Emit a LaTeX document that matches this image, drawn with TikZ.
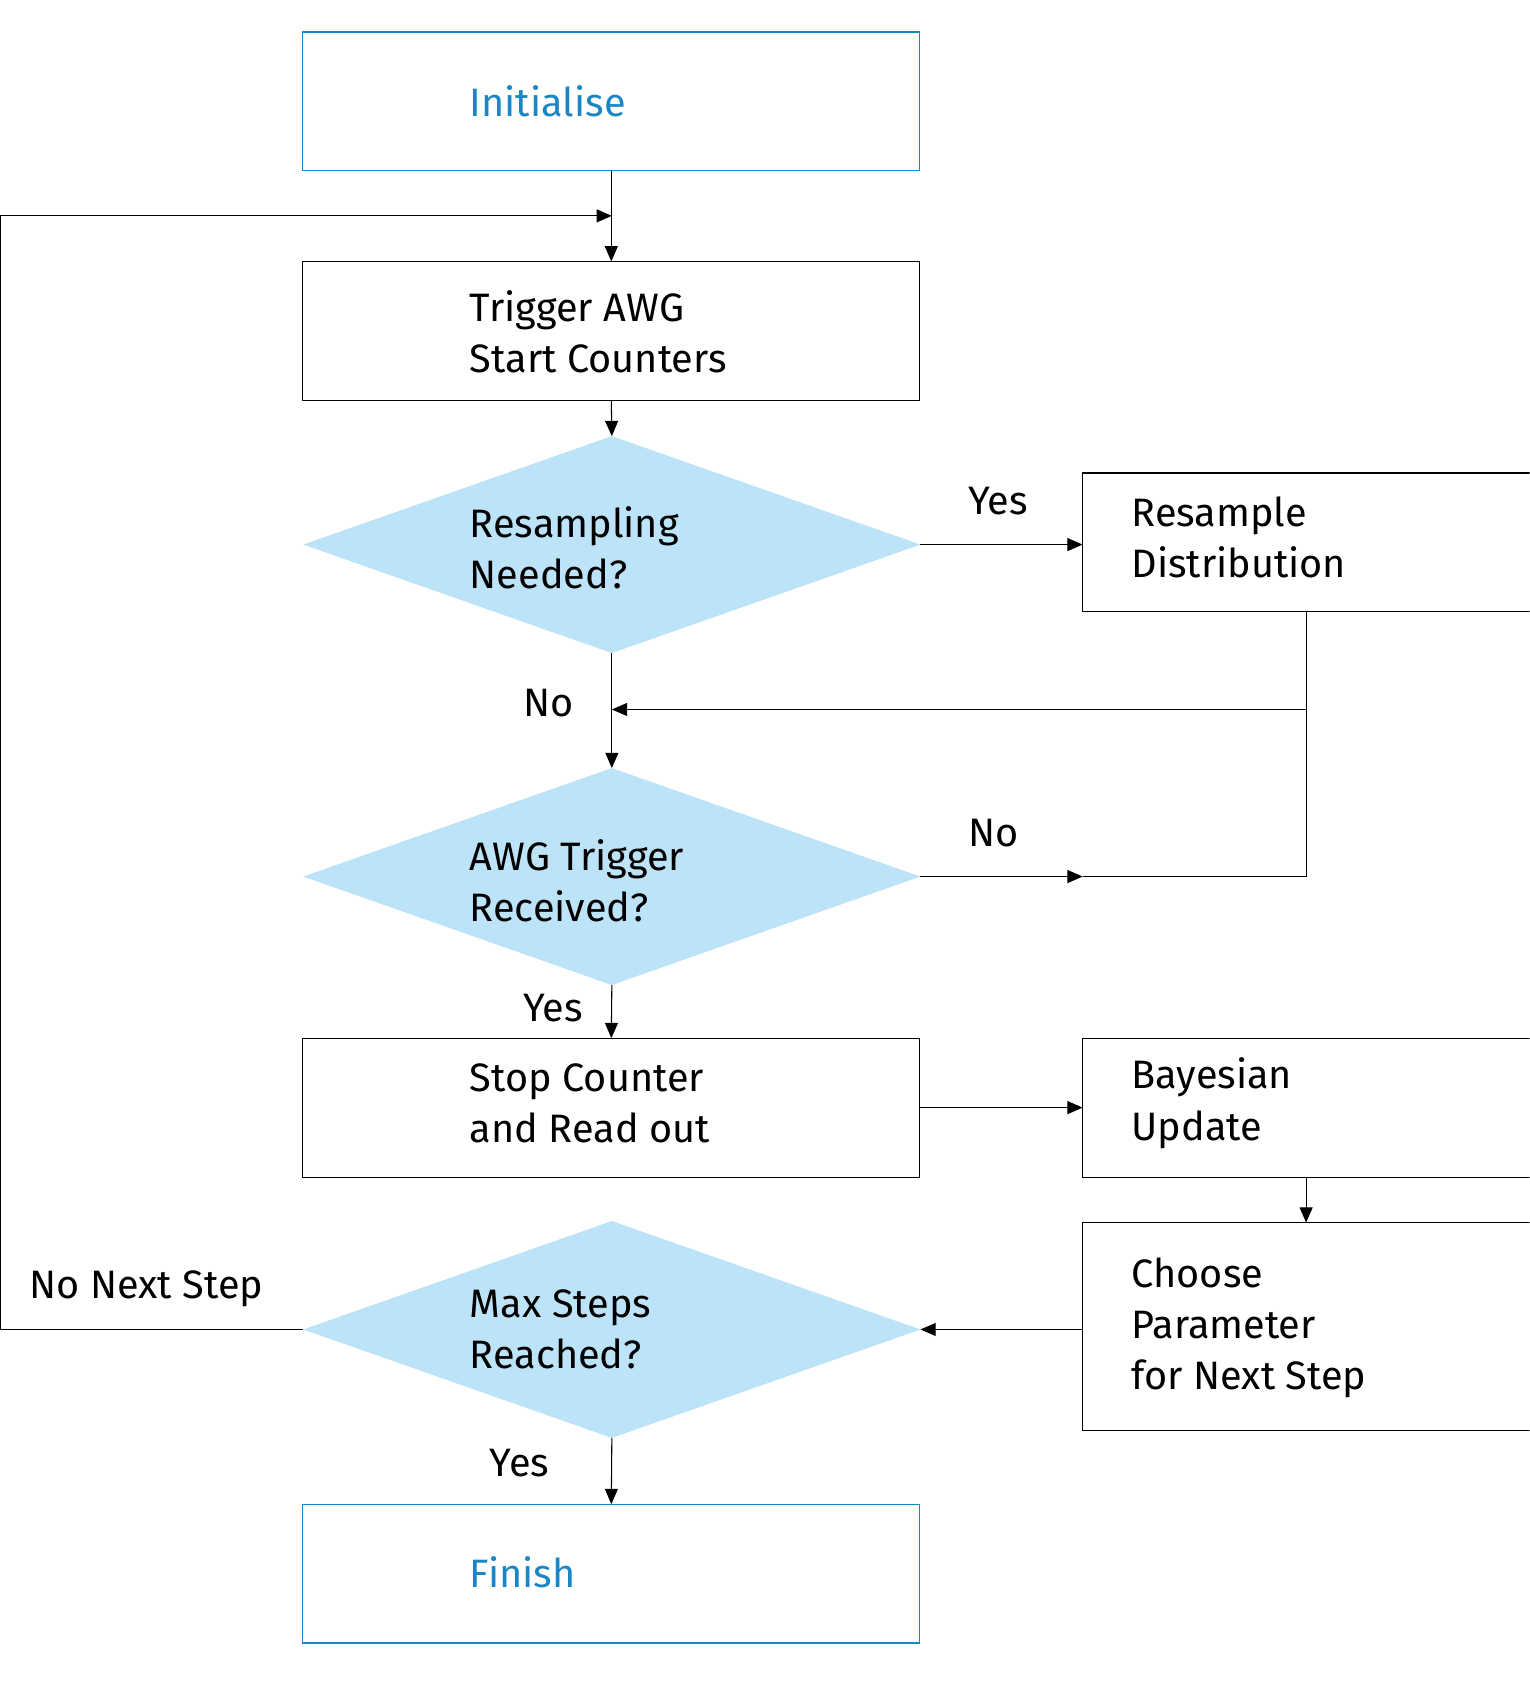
\documentclass[tikz,border=0pt]{standalone}
\usepackage{fontspec}
\setmainfont{Fira Sans}
\usetikzlibrary{arrows.meta,shapes.geometric}
\definecolor{zblue}{HTML}{1A86C3}
\definecolor{dfill}{HTML}{BDE3F8}
\begin{document}
\begin{tikzpicture}[x=0.05cm,y=-0.05cm,
  box/.style={draw,line width=1.4pt,minimum width=28.45cm,minimum height=6.4cm,inner sep=0,outer sep=0},
  rbox/.style={box,minimum width=21.1cm},
  sbox/.style={box,draw=zblue},
  dia/.style={diamond,fill=dfill,aspect=2.84,minimum width=28.45cm,minimum height=10cm,inner sep=0,outer sep=0},
  txt/.style={anchor=west,align=left,inner sep=0,font=\fontsize{52pt}{67pt}\selectfont},
  lbl/.style={inner sep=0,font=\fontsize{52pt}{67pt}\selectfont},
  arr/.style={line width=1.4pt,-{Triangle[length=20pt,width=17pt]}},
  ln/.style={line width=1.4pt}]
\useasboundingbox (0,0) rectangle (1410,1568);
\clip (0,0) rectangle (1410,1568);
\node[sbox] (init) at (563.5,93.5) {};
\node[txt,text=zblue] (tinit) at (433,93.5) {Initialise};
\node[box] (trig) at (563.5,305) {};
\node[txt] (ttrig) at (433,306) {Trigger AWG\\Start Counters};
\node[dia] (d1) at (564,502) {};
\node[txt] (td1) at (433,505) {Resampling\\Needed?};
\node[rbox] (res) at (1209,500) {};
\node[txt] (tres) at (1043,495) {Resample\\Distribution};
\node[dia] (d2) at (564,808) {};
\node[txt] (td2) at (433,812) {AWG Trigger\\Received?};
\node[box] (stop) at (563.5,1021) {};
\node[txt] (tstop) at (433,1017) {Stop Counter\\and Read out};
\node[rbox] (bay) at (1209,1021) {};
\node[txt] (tbay) at (1043,1017) {Bayesian\\Update};
\node[rbox,minimum height=9.6cm] (cho) at (1209,1223) {};
\node[txt] (tcho) at (1043,1224) {Choose\\Parameter\\for Next Step};
\node[dia] (d3) at (564,1225.5) {};
\node[txt] (td3) at (433,1225) {Max Steps\\Reached?};
\node[sbox] (fin) at (563.5,1450.5) {};
\node[txt,text=zblue] (tfin) at (433,1449) {Finish};
\coordinate (m1) at (564,199);
\coordinate (m2) at (564,654);
\coordinate (c1) at (1204,654);
\coordinate (c2) at (998,808);
\coordinate (c3) at (1204,808);
\coordinate (l1) at (0,1225.5);
\coordinate (l2) at (0,199);
\draw[arr] (init.south) -- (trig.north);
\draw[arr] (d3.west) -- (l1) -- (l2) -- (m1);
\draw[arr] (trig.south) -- (d1.north);
\draw[arr] (d1.east) -- (res.west |- d1.east);
\draw[arr] (res.south -| c1) -- (c1) -- (m2);
\draw[arr] (d1.south) -- (d2.north);
\draw[arr] (d2.east) -- (c2);
\draw[ln] (c2) -- (c3) -- (c1);
\draw[arr] (d2.south) -- (stop.north);
\draw[arr] (stop.east) -- (bay.west |- stop.east);
\draw[arr] (bay.south -| c1) -- (cho.north -| c1);
\draw[arr] (cho.west |- d3.east) -- (d3.east);
\draw[arr] (d3.south) -- (fin.north);
\node[lbl] (y1) at (920,462) {Yes};
\node[lbl] (n1) at (506,648) {No};
\node[lbl] (n2) at (916,768) {No};
\node[lbl] (y2) at (510,929) {Yes};
\node[lbl] (nn) at (135,1188) {No Next Step};
\node[lbl] (y3) at (479,1349) {Yes};
\end{tikzpicture}
\end{document}
